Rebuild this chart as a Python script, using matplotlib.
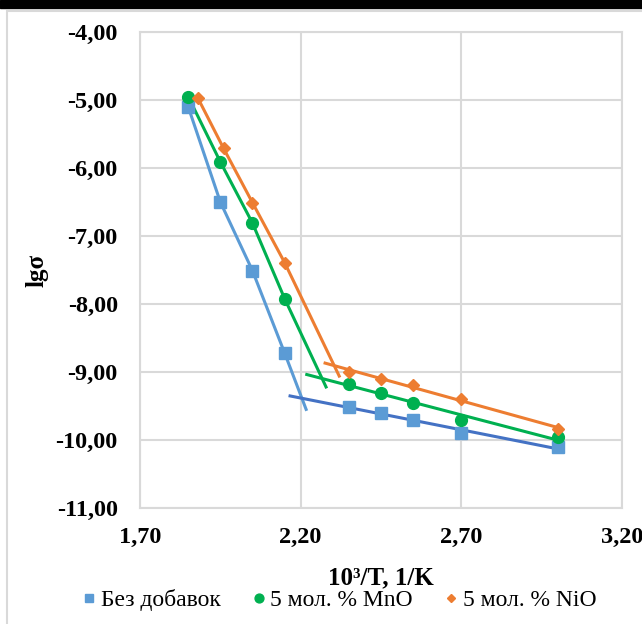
import numpy as np
import matplotlib
matplotlib.use("Agg")
import matplotlib.pyplot as plt
from matplotlib.patches import Rectangle
from matplotlib.lines import Line2D
from matplotlib.ticker import FuncFormatter, FixedLocator

plt.rcParams['font.family'] = ['Liberation Serif', 'DejaVu Serif']

# data (x = 10^3/T, y = lg sigma)
x_base = [1.85, 1.95, 2.05, 2.15, 2.35, 2.45, 2.55, 2.70, 3.00]
x_nio = [1.88, 1.96, 2.05, 2.15, 2.35, 2.45, 2.55, 2.70, 3.00]
y_base = [-5.10, -6.50, -7.51, -8.72, -9.51, -9.61, -9.71, -9.89, -10.11]
y_mno = [-4.95, -5.91, -6.81, -7.92, -9.17, -9.31, -9.45, -9.71, -9.96]
y_nio = [-4.97, -5.71, -6.51, -7.39, -9.00, -9.10, -9.19, -9.40, -9.84]

labels = ["Без добавок", "5 мол. % MnO", "5 мол. % NiO"]
x_ticks = [1.70, 2.20, 2.70, 3.20]
y_ticks = [-11, -10, -9, -8, -7, -6, -5, -4]
# where the steep line stops, and where the flat trendline starts
steep_end_x = [2.217, 2.279, 2.32]
steep_end_y = [-9.55, -9.22, -9.06]
flat_start_x = [2.167, 2.219, 2.276]
flat_end_x = 3.0
n_steep = 4

series = [
    (x_base, y_base, "s", "#5B9BD5", "#4472C4", 8),
    (x_base, y_mno, "o", "#00B050", "#00B050", 8.5),
    (x_nio, y_nio, "D", "#ED7D31", "#ED7D31", 5.8),
]

fig = plt.figure(figsize=(6.42, 6.24), dpi=100)

# outer frame like the excel chart area
fig.patches.append(Rectangle((0, 1 - 8 / 624), 1, 8 / 624, color="black",
                             transform=fig.transFigure, zorder=0))
fig.patches.append(Rectangle((7 / 642, -0.1), 1.2, 1.1 - 11 / 624, facecolor="none",
                             edgecolor="#D9D9D9", lw=1.5, transform=fig.transFigure, zorder=0))

ax = fig.add_axes([140 / 642, 1 - 508 / 624, 482 / 642, 476 / 624])

for i, (xs, ys, mk, col, flat_col, ms) in enumerate(series):
    xs = np.array(xs)
    ys = np.array(ys)
    # steep part: joined markers, then extended down
    lx = list(xs[:n_steep]) + [steep_end_x[i]]
    ly = list(ys[:n_steep]) + [steep_end_y[i]]
    ax.plot(lx, ly, color=col, lw=2.2, zorder=3)
    # flat part: linear trendline
    k, b = np.polyfit(xs[n_steep:], ys[n_steep:], 1)
    fx = np.array([flat_start_x[i], flat_end_x])
    ax.plot(fx, k * fx + b, color=flat_col, lw=2.2, zorder=3)
    ax.plot(xs, ys, linestyle="none", marker=mk, color=col, ms=ms, zorder=4)

ax.set_xlim(1.70, 3.20)
ax.set_ylim(-11, -4)
ax.xaxis.set_major_locator(FixedLocator(x_ticks))
ax.yaxis.set_major_locator(FixedLocator(y_ticks))
fmt = FuncFormatter(lambda v, p: f"{v:.2f}".replace(".", ","))
ax.xaxis.set_major_formatter(fmt)
ax.yaxis.set_major_formatter(fmt)
ax.grid(True, color="#D9D9D9", lw=1.5)
ax.set_axisbelow(True)
for s in ax.spines.values():
    s.set_color("#D9D9D9")
    s.set_linewidth(1.5)
ax.tick_params(length=0, labelsize=17.5)
ax.tick_params(axis="y", pad=16)
ax.tick_params(axis="x", pad=14)
for t in ax.get_xticklabels() + ax.get_yticklabels():
    t.set_fontweight("bold")

fig.text(381 / 642, 1 - 578 / 624, "10³/T, 1/K", ha="center", va="center",
         fontsize=18, fontweight="bold")
fig.text(37 / 642, 1 - 270 / 624, "lgσ", ha="center", va="center",
         rotation=90, fontsize=18, fontweight="bold")

handles = [Line2D([], [], linestyle="none", marker=m, color=c, ms=s * 0.75)
           for (_, _, m, c, _, s) in series]
fig.legend(handles, labels, loc="center", bbox_to_anchor=(338 / 642, 1 - 600 / 624),
           ncol=3, frameon=False, prop={"family": "Liberation Serif", "size": 17},
           handletextpad=0.1, columnspacing=1.2, handlelength=0.8)

fig.savefig("out.png", dpi=100)
